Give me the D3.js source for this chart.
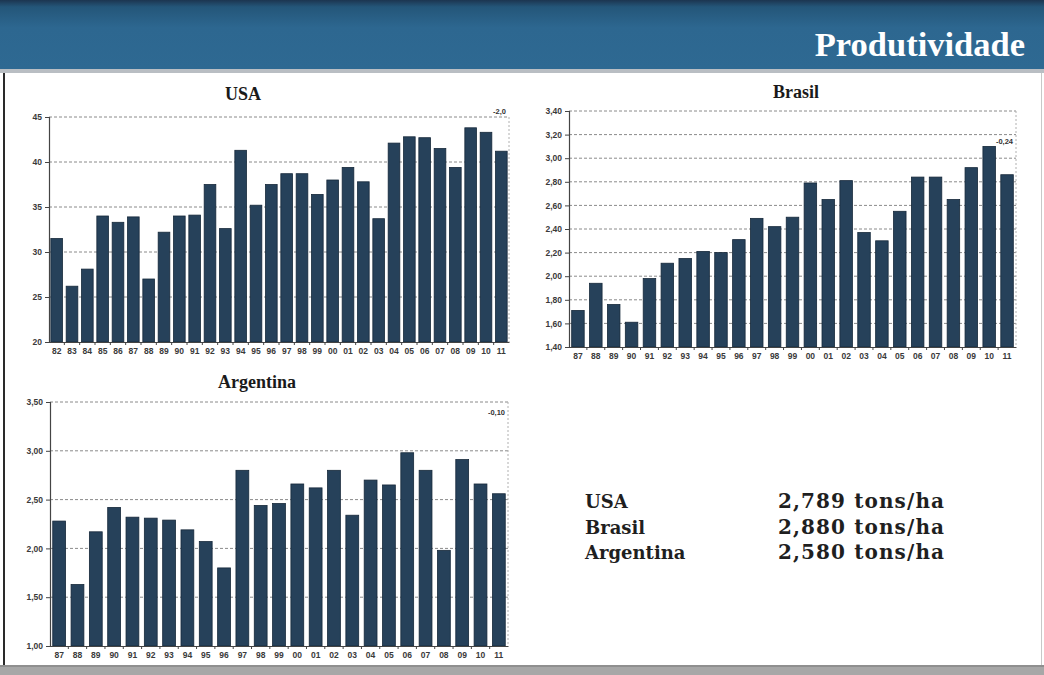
<!DOCTYPE html>
<html>
<head>
<meta charset="utf-8">
<script src="https://cdn.jsdelivr.net/npm/d3@7"></script>
<style>
  html, body { margin: 0; padding: 0; background: #ffffff; }
  svg { display: block; }
</style>
</head>
<body>
<svg id="slide" width="1044" height="675"></svg>
<script>
// Soybean yield series per country (year labels are two-digit harvest years)
const usaYears = ["82","83","84","85","86","87","88","89","90","91","92","93","94","95","96","97","98","99","00","01","02","03","04","05","06","07","08","09","10","11"];
const usaValues = [31.5,26.2,28.1,34.0,33.3,33.9,27.0,32.2,34.0,34.1,37.5,32.6,41.3,35.2,37.5,38.7,38.7,36.4,38.0,39.4,37.8,33.7,42.1,42.8,42.7,41.5,39.4,43.8,43.3,41.2];
const usaTicks = [20,25,30,35,40,45];

const brYears = ["87","88","89","90","91","92","93","94","95","96","97","98","99","00","01","02","03","04","05","06","07","08","09","10","11"];
const brValues = [1.71,1.94,1.76,1.61,1.98,2.11,2.15,2.21,2.20,2.31,2.49,2.42,2.50,2.79,2.65,2.81,2.37,2.30,2.55,2.84,2.84,2.65,2.92,3.10,2.86];
const brTicks = [1.4,1.6,1.8,2.0,2.2,2.4,2.6,2.8,3.0,3.2,3.4];

const arYears = ["87","88","89","90","91","92","93","94","95","96","97","98","99","00","01","02","03","04","05","06","07","08","09","10","11"];
const arValues = [2.28,1.63,2.17,2.42,2.32,2.31,2.29,2.19,2.07,1.80,2.80,2.44,2.46,2.66,2.62,2.80,2.34,2.70,2.65,2.98,2.80,1.98,2.91,2.66,2.56];
const arTicks = [1.0,1.5,2.0,2.5,3.0,3.5];

// Last-season change notes shown in each panel corner
const changeNotes = ["-2,0", "-0,24", "-0,10"];

// Summary table
const summaryCountries = ["USA", "Brasil", "Argentina"];
const summaryYields = ["2,789 tons/ha", "2,880 tons/ha", "2,580 tons/ha"];

const svg = d3.select("#slide");

// ---------- header banner ----------
const defs = svg.append("defs");
const grad = defs.append("linearGradient").attr("id", "band").attr("x1", 0).attr("y1", 0).attr("x2", 0).attr("y2", 1);
grad.append("stop").attr("offset", "0%").attr("stop-color", "#1c3550");
grad.append("stop").attr("offset", "10%").attr("stop-color", "#245679");
grad.append("stop").attr("offset", "40%").attr("stop-color", "#2d6790");
grad.append("stop").attr("offset", "100%").attr("stop-color", "#2e6992");

svg.append("rect").attr("x", 0).attr("y", 0).attr("width", 1044).attr("height", 69).attr("fill", "url(#band)");
svg.append("rect").attr("x", 0).attr("y", 69).attr("width", 1044).attr("height", 4).attr("fill", "#b9bec3");
svg.append("text")
  .attr("x", 1025).attr("y", 56)
  .attr("text-anchor", "end")
  .attr("font-family", "'Liberation Serif', 'DejaVu Serif', serif")
  .attr("font-weight", "bold")
  .attr("font-size", 34.5)
  .attr("fill", "#ffffff")
  .text("Produtividade");

// ---------- slide frame ----------
svg.append("rect").attr("x", 3).attr("y", 73).attr("width", 2).attr("height", 592).attr("fill", "#2a2a2a");
svg.append("rect").attr("x", 1041).attr("y", 73).attr("width", 1).attr("height", 592).attr("fill", "#c8c8c8");
svg.append("rect").attr("x", 0).attr("y", 665).attr("width", 1044).attr("height", 10).attr("fill", "#a7a7a7");
svg.append("rect").attr("x", 0).attr("y", 665).attr("width", 1044).attr("height", 2).attr("fill", "#8f8f8f");

// ---------- bar panel ----------
function drawPanel(opt) {
  const g = svg.append("g");
  const x = d3.scaleBand().domain(opt.years).range([opt.left, opt.right]).paddingInner(opt.pad).paddingOuter(opt.pad / 2);
  const y = d3.scaleLinear().domain(opt.domain).range([opt.bottom, opt.top]);

  // dashed gridlines
  g.selectAll("line.grid").data(opt.ticks.slice(1)).join("line")
    .attr("x1", opt.left).attr("x2", opt.right)
    .attr("y1", d => y(d)).attr("y2", d => y(d))
    .attr("stroke", "#8a8a8a").attr("stroke-width", 1)
    .attr("stroke-dasharray", "3,2");

  // dotted right edge of the plot area
  g.append("line")
    .attr("x1", opt.right).attr("x2", opt.right)
    .attr("y1", opt.top).attr("y2", opt.bottom)
    .attr("stroke", "#b0b0b0").attr("stroke-dasharray", "2,2");

  // bars
  g.selectAll("rect.bar").data(opt.values).join("rect")
    .attr("x", (d, i) => x(opt.years[i]))
    .attr("y", d => y(d))
    .attr("width", x.bandwidth())
    .attr("height", d => opt.bottom - y(d))
    .attr("fill", "#26415a")
    .attr("stroke", "#16283a").attr("stroke-width", 0.8);

  // y axis
  const yAxis = d3.axisLeft(y).tickValues(opt.ticks).tickSize(4).tickPadding(3).tickFormat(opt.fmt);
  const ya = g.append("g").attr("transform", `translate(${opt.left},0)`).call(yAxis);
  ya.select(".domain").attr("stroke", "#444").attr("stroke-width", 1.2);
  ya.selectAll(".tick line").attr("stroke", "#444");
  ya.selectAll("text")
    .attr("font-family", "'Liberation Sans', Arial, sans-serif")
    .attr("font-weight", "bold").attr("font-size", 8.5).attr("fill", "#3a3a3a");

  // x axis
  const xAxis = d3.axisBottom(x).tickSize(0).tickPadding(6);
  const xa = g.append("g").attr("transform", `translate(0,${opt.bottom})`).call(xAxis);
  xa.select(".domain").attr("stroke", "#444").attr("stroke-width", 1.2);
  xa.selectAll("text")
    .attr("font-family", "'Liberation Sans', Arial, sans-serif")
    .attr("font-weight", "bold").attr("font-size", 8.5).attr("fill", "#3a3a3a");
  // tick marks between categories
  const step = x.step();
  g.selectAll("line.sep").data(opt.years.slice(1)).join("line")
    .attr("x1", d => x(d) - (step - x.bandwidth()) / 2)
    .attr("x2", d => x(d) - (step - x.bandwidth()) / 2)
    .attr("y1", opt.bottom).attr("y2", opt.bottom + 3)
    .attr("stroke", "#444");

  // panel title
  svg.append("text")
    .attr("x", opt.titleX).attr("y", opt.titleY)
    .attr("text-anchor", "middle")
    .attr("font-family", "'Liberation Serif', 'DejaVu Serif', serif")
    .attr("font-weight", "bold").attr("font-size", 18).attr("fill", "#1a1a1a")
    .text(opt.title);

  // corner note
  svg.append("text")
    .attr("x", opt.right - 3).attr("y", opt.noteY)
    .attr("text-anchor", "end")
    .attr("font-family", "'Liberation Sans', Arial, sans-serif")
    .attr("font-weight", "bold").attr("font-size", 7.5).attr("fill", "#333333")
    .text(opt.note);
}

const fmtInt = d3.format("d");
const fmtComma2 = d => d3.format(".2f")(d).replace(".", ",");

drawPanel({
  title: "USA", titleX: 243, titleY: 100,
  years: usaYears, values: usaValues, ticks: usaTicks, domain: [20, 45], fmt: fmtInt,
  left: 49, right: 509, top: 117, bottom: 342, pad: 0.24,
  note: changeNotes[0], noteY: 114
});

drawPanel({
  title: "Brasil", titleX: 796, titleY: 98,
  years: brYears, values: brValues, ticks: brTicks, domain: [1.4, 3.4], fmt: fmtComma2,
  left: 569, right: 1016, top: 111, bottom: 347, pad: 0.3,
  note: changeNotes[1], noteY: 144
});

drawPanel({
  title: "Argentina", titleX: 257, titleY: 388,
  years: arYears, values: arValues, ticks: arTicks, domain: [1.0, 3.5], fmt: fmtComma2,
  left: 50, right: 508, top: 402, bottom: 646, pad: 0.3,
  note: changeNotes[2], noteY: 415
});

// ---------- summary of average yields ----------
const rowY = [508, 534, 559];
summaryCountries.forEach((c, i) => {
  svg.append("text")
    .attr("x", 585).attr("y", rowY[i])
    .attr("font-family", "'DejaVu Serif', 'Liberation Serif', serif")
    .attr("font-weight", "bold").attr("font-size", 18).attr("fill", "#1f1f1f")
    .text(c);
  svg.append("text")
    .attr("x", 778).attr("y", rowY[i])
    .attr("font-family", "'DejaVu Serif', 'Liberation Serif', serif")
    .attr("font-weight", "bold").attr("font-size", 20).attr("fill", "#1f1f1f")
    .attr("textLength", 166).attr("lengthAdjust", "spacing")
    .text(summaryYields[i]);
});
</script>
</body>
</html>
